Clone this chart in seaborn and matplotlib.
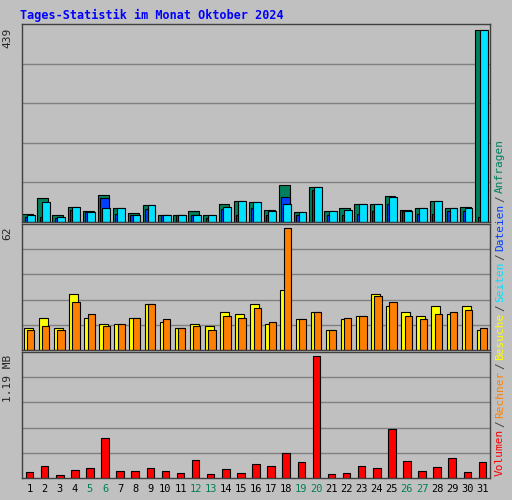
import numpy as np
import matplotlib
matplotlib.use("Agg")
import matplotlib.pyplot as plt
import seaborn as sns
from matplotlib.transforms import offset_copy

days = list(range(1, 32))
weekend = [5, 6, 12, 13, 19, 20, 26, 27]
hits = [18,54,15,34,24,62,31,20,38,17,15,24,17,42,49,45,28,84,22,80,24,31,40,40,59,28,31,47,33,35,439]
files = [15,45,12,34,22,31,31,17,38,17,15,17,15,35,49,45,26,42,22,80,24,28,40,40,56,26,31,47,31,33,439]
pages = [12,12,10,27,22,54,19,17,29,17,15,17,10,29,17,32,15,56,17,72,15,17,19,24,42,24,19,19,24,24,12]
visits = [11.4,16,11.4,28.4,16,13.4,13.4,16,23.2,14.4,11.4,13.4,12.4,19.1,18,23.2,13.4,30.4,15.5,19.1,10.3,15.5,17,28.4,22.2,19.1,17,22.2,18,22.2,10.3]
sites = [10.3,12.4,10.3,24.3,18,12.4,13.4,16,23.2,15.5,11.4,12.4,10.3,17,16,21.2,14.4,62,15.5,19.1,10.3,16,17,27.3,24.3,17,15.5,18,19.1,20.1,11.4]
volume_px = [6,12,3,8,10,39,7,7,10,7,5,18,4,9,5,14,12,25,16,120,4,5,12,10,48,17,7,11,20,6,16]
volume_mb = [v * 1.19 / 120 for v in volume_px]

sns.set_style("white")
plt.rcParams['font.family'] = ['DejaVu Sans Mono', 'DejaVu Sans']
BG = "#c0c0c0"
W, H = 512, 500
fig = plt.figure(figsize=(W/100, H/100), dpi=100, facecolor=BG)

def ax_at(x0, y0, x1, y1):
    return fig.add_axes([x0/W, 1 - y1/H, (x1-x0)/W, (y1-y0)/H])

fig.text(20/W, 1-15/H, "Tages-Statistik im Monat Oktober 2024", color="#0000ff",
         fontsize=8.5, fontweight="bold", va="center", ha="left")

x = np.array(days, dtype=float)
EC = "black"

def style(ax, ymax, label):
    ax.set_facecolor(BG)
    ax.set_xlim(0.5, 31.5)
    ax.set_ylim(0, ymax)
    for i in range(1, 5):
        ax.axhline(ymax * i / 5, color="#808080", lw=1, zorder=0)
    ax.set_xticks([]); ax.set_yticks([])
    for s in ax.spines.values():
        s.set_color("#404040"); s.set_linewidth(1)
    ax.text(-0.02, 0.98, label, transform=ax.transAxes, rotation=90,
            ha="right", va="top", fontsize=8)

ax1 = ax_at(22, 24, 490, 222)
ax1.bar(x - 0.12, hits, width=0.72, color="#00805c", edgecolor=EC, lw=0.8)
ax1.bar(x - 0.02, pages, width=0.6, color="#0040ff", edgecolor=EC, lw=0.8)
ax1.bar(x + 0.08, files, width=0.52, color="#00e0ff", edgecolor=EC, lw=0.8)
style(ax1, max(hits) * 1.03, "439")

ax2 = ax_at(22, 224, 490, 350)
ax2.bar(x - 0.08, visits, width=0.6, color="#ffff00", edgecolor=EC, lw=0.8)
ax2.bar(x + 0.08, sites, width=0.48, color="#ff8000", edgecolor=EC, lw=0.8)
style(ax2, max(sites) * 1.03, "62")

ax3 = ax_at(22, 352, 490, 478)
ax3.bar(x, volume_mb, width=0.5, color="#ff0000", edgecolor=EC, lw=0.8)
style(ax3, max(volume_mb) * 1.03, "1.19 MB")

for d in days:
    fig.text((22 + (d - 0.5) / 31 * 468) / W, 1 - 489/H, str(d),
             color="#00805c" if d in weekend else "black",
             ha="center", va="center", fontsize=7.5)

parts = [("Volumen", "#ff0000"), ("/", "#404040"), ("Rechner", "#ff8000"), ("/", "#404040"),
         ("Besuche", "#ffff00"), ("/", "#404040"), ("Seiten", "#00e0ff"), ("/", "#404040"),
         ("Dateien", "#0040ff"), ("/", "#404040"), ("Anfragen", "#00805c")]
renderer = fig.canvas.get_renderer()
ypix = 476.0
for t, c in parts:
    txt = fig.text(500/W, 1 - ypix/H, t, color=c, rotation=90, ha="center",
                   va="bottom", fontsize=8)
    bb = txt.get_window_extent(renderer)
    ypix -= bb.height + 2

fig.savefig("out.png", dpi=100, facecolor=BG)
